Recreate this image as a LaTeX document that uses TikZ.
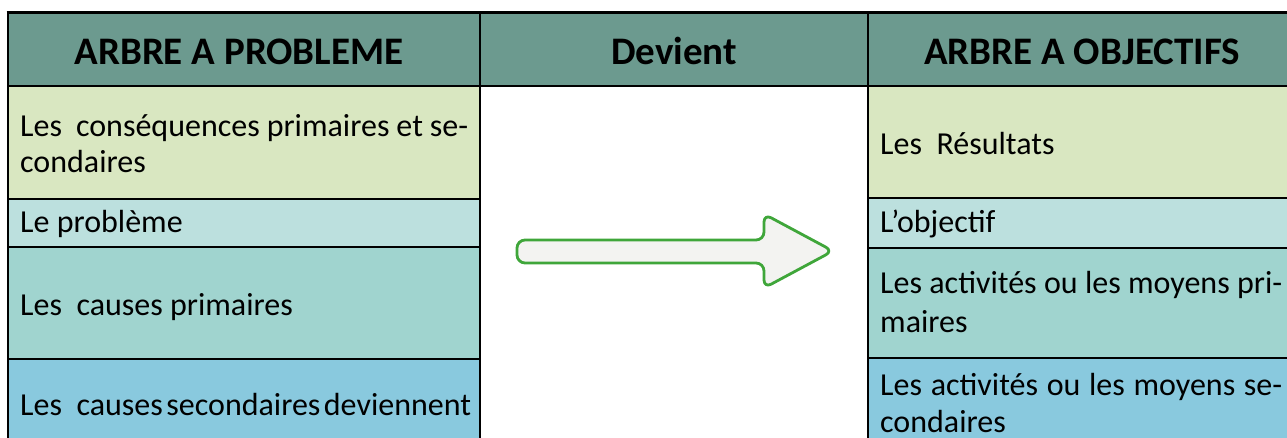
\documentclass[tikz,border=0pt]{standalone}
\usepackage{fontspec}
\setmainfont{Carlito}
\definecolor{hdr}{RGB}{108,154,143}
\definecolor{rowA}{RGB}{217,231,193}
\definecolor{rowB}{RGB}{188,224,222}
\definecolor{rowC}{RGB}{160,212,207}
\definecolor{rowD}{RGB}{137,201,222}
\definecolor{arrg}{RGB}{63,166,58}
\definecolor{arrf}{RGB}{243,243,241}
\tikzset{
  x=1pt, y=-1pt,
  grid/.style={line width=2.2pt, draw=black},
  body/.style={anchor=base west, inner sep=0pt, font=\fontsize{32}{38}\selectfont},
  head/.style={anchor=base, inner sep=0pt, font=\fontsize{39}{44}\selectfont\bfseries},
}
\begin{document}
\begin{tikzpicture}
\useasboundingbox (0,0) rectangle (1287,438);
% header
\fill[hdr] (8,13) rectangle (1300,86);
% left column
\fill[rowA] (8,86) rectangle (480,199);
\fill[rowB] (8,199) rectangle (480,247);
\fill[rowC] (8,247) rectangle (480,359);
\fill[rowD] (8,359) rectangle (480,450);
% right column
\fill[rowA] (868,86) rectangle (1300,198);
\fill[rowB] (868,198) rectangle (1300,248);
\fill[rowC] (868,248) rectangle (1300,358);
\fill[rowD] (868,358) rectangle (1300,450);
% grid lines
\draw[grid, line width=3pt] (6.5,13) -- (1300,13);
\draw[grid] (8,86) -- (1300,86);
\draw[grid] (8,199) -- (480,199);
\draw[grid] (8,247) -- (480,247);
\draw[grid] (8,359) -- (480,359);
\draw[grid] (868,198) -- (1300,198);
\draw[grid] (868,248) -- (1300,248);
\draw[grid] (868,358) -- (1300,358);
\draw[grid] (8,12) -- (8,450);
\draw[grid] (480,12) -- (480,450);
\draw[grid] (868,12) -- (868,450);
% header texts
\node[head] (h1) at (239,65) {ARBRE A PROBLEME};
\node[head] (h2) at (674,65) {Devient};
\node[head] (h3) at (1082,65) {ARBRE A OBJECTIFS};
% left texts
\node[body] (l1a) at (20,137) {\makebox[448pt][s]{Les\ \ conséquences primaires et se-}};
\node[body] (l1b) at (20,173) {condaires};
\node[body] (l2) at (20,233) {Le problème};
\node[body] (l3) at (20,315) {Les\ \ causes primaires};
\node[body] (l4) at (20,415) {Les\ \ causes\hskip3.5pt secondaires\hskip3.5pt deviennent};
% right texts
\node[body] (r1) at (880,155) {Les\ \ Résultats};
\node[body] (r2) at (880,233) {L’objectif};
\node[body] (r3a) at (880,293) {\makebox[402pt][s]{Les activités ou les moyens pri-}};
\node[body] (r3b) at (880,332) {maires};
\node[body] (r4a) at (880,395) {\makebox[402pt][s]{Les activités ou les moyens se-}};
\node[body] (r4b) at (880,432) {condaires};
% arrow
\draw[line width=2.8pt, draw=arrg, fill=arrf, rounded corners=8pt, line join=round]
  (517,240) -- (764,240) -- (764,214) -- (833,251) -- (764,288) -- (764,263) -- (517,263) -- cycle;
\end{tikzpicture}
\end{document}
